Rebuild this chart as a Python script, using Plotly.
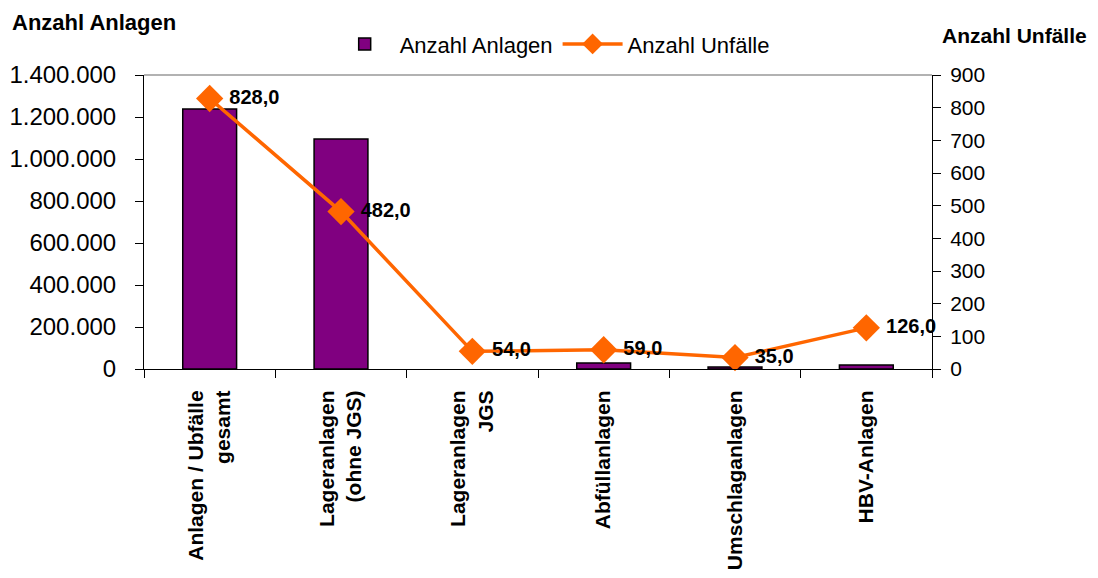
import plotly.graph_objects as go

categories = ["Anlagen / Ubfälle<br>gesamt", "Lageranlagen<br>(ohne JGS)", "Lageranlagen<br>JGS",
              "Abfüllanlagen", "Umschlaganlagen", "HBV-Anlagen"]
anlagen = [1238000, 1095000, None, 28000, 9000, 19000]
unfaelle = [828.0, 482.0, 54.0, 59.0, 35.0, 126.0]
left_ticks = [0, 200000, 400000, 600000, 800000, 1000000, 1200000, 1400000]
right_ticks = [0, 100, 200, 300, 400, 500, 600, 700, 800, 900]

FONT = "Liberation Sans, Arial, sans-serif"

fig = go.Figure()
fig.add_trace(go.Bar(
    x=categories, y=anlagen, name="Anzahl Anlagen",
    marker=dict(color="#800080", line=dict(color="black", width=1.5)),
    width=0.41, yaxis="y",
))
fig.add_trace(go.Scatter(
    x=categories, y=unfaelle, name="Anzahl Unfälle", yaxis="y2",
    mode="lines+markers+text",
    line=dict(color="#FF6600", width=3.5),
    marker=dict(symbol="diamond", size=21, color="#FF6600"),
    texttemplate=" %{y:.1f}", textposition="middle right",
    textfont=dict(family=FONT, size=20, color="black", weight="bold"),
    cliponaxis=False,
))

fig.update_layout(
    width=1098, height=578,
    margin=dict(l=136, r=174, t=67, b=217, autoexpand=False),
    paper_bgcolor="white", plot_bgcolor="white",
    separators=",.",
    font=dict(family=FONT, color="black"),
    showlegend=True,
    legend=dict(orientation="h", x=0.518, xanchor="center", y=1.105, yanchor="middle",
                font=dict(size=22), traceorder="normal", itemwidth=60),
    xaxis=dict(
        tickangle=-90, tickson="boundaries", ticks="outside", ticklen=8, tickcolor="black",
        showline=True, linecolor="black", linewidth=1, ticklabelstandoff=12,
        tickfont=dict(size=21, weight="bold"), showgrid=False, automargin=False,
    ),
    yaxis=dict(
        range=[0, 1400000], tickvals=left_ticks, tickformat=",.0f",
        ticks="outside", ticklen=8, tickcolor="black", ticklabelstandoff=14,
        showline=True, linecolor="black", linewidth=1, showgrid=False, zeroline=False,
        tickfont=dict(size=24), automargin=False,
    ),
    yaxis2=dict(
        range=[0, 900], tickvals=right_ticks, overlaying="y", side="right",
        ticks="outside", ticklen=8, tickcolor="black", ticklabelstandoff=5,
        showline=True, linecolor="black", linewidth=1, showgrid=False, zeroline=False,
        tickfont=dict(size=21), automargin=False,
    ),
    shapes=[dict(type="line", xref="paper", yref="paper", x0=0, x1=1, y0=1, y1=1,
                 line=dict(color="#999999", width=1.5))],
    annotations=[
        dict(text="<b>Anzahl Anlagen</b>", xref="paper", yref="paper", x=-0.170, y=1.18,
             xanchor="left", yanchor="middle", showarrow=False, font=dict(size=22)),
        dict(text="<b>Anzahl Unfälle</b>", xref="paper", yref="paper", x=1.0102, y=1.136,
             xanchor="left", yanchor="middle", showarrow=False, font=dict(size=21)),
    ],
)

fig.write_html("out.html")
